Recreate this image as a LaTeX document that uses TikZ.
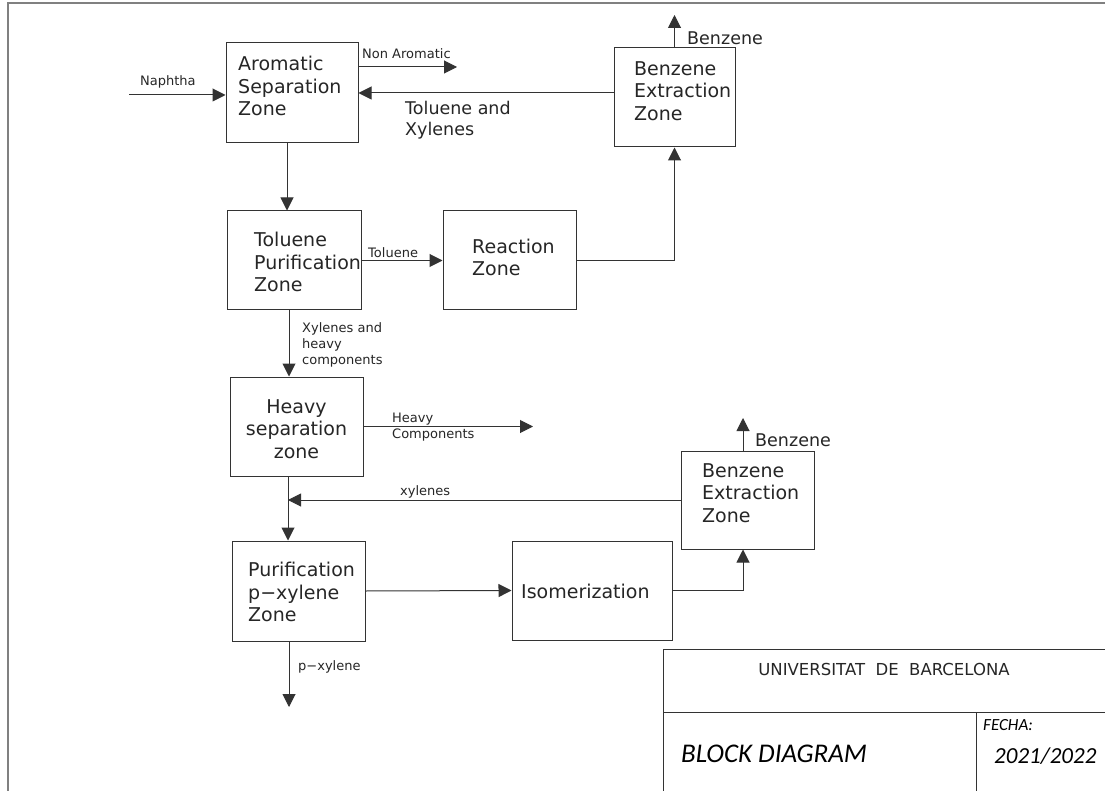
\documentclass[tikz,border=0pt]{standalone}
\usepackage{fontspec}
\setmainfont{DejaVu Sans}
\newfontfamily\calib{Carlito}
\usetikzlibrary{arrows.meta}
\begin{document}
\begin{tikzpicture}[x=1pt,y=-1pt,
  box/.style={draw=black!80, line width=1pt, inner sep=0pt},
  btxt/.style={inner sep=0pt, anchor=west, align=left, text=black!85, font=\fontsize{19}{22.5}\selectfont},
  slbl/.style={inner sep=0pt, anchor=west, align=left, text=black!85, font=\fontsize{13}{16}\selectfont},
  mlbl/.style={inner sep=0pt, anchor=west, align=left, text=black!85, font=\fontsize{17.5}{21.5}\selectfont},
  arr/.style={draw=black!80, line width=1pt, -{Triangle[length=13pt,width=13pt]}},
  ln/.style={draw=black!80, line width=1pt}]
\useasboundingbox (0,0) rectangle (1105,791);
\clip (0,0) rectangle (1105,791);
\fill[white] (0,0) rectangle (1105,791);
% frame
\draw[gray, line width=1.6pt] (8,3) rectangle (1130,820);
% boxes
\node[box, minimum width=132pt, minimum height=100pt] (asz) at (292,93) {};
\node[box, minimum width=121pt, minimum height=99pt] (bez1) at (674.5,97.5) {};
\node[box, minimum width=134pt, minimum height=99pt] (tpz) at (294,260.5) {};
\node[box, minimum width=133pt, minimum height=99pt] (rz) at (509.5,260.5) {};
\node[box, minimum width=133pt, minimum height=99pt] (hsz) at (296.5,426.5) {};
\node[box, minimum width=133pt, minimum height=98pt] (bez2) at (747.5,500) {};
\node[box, minimum width=133pt, minimum height=100pt] (pxz) at (298.5,591) {};
\node[box, minimum width=160pt, minimum height=99pt] (iso) at (592,590.5) {};
% box texts
\node[btxt] (asz-t) at (238,86) {Aromatic\\Separation\\Zone};
\node[btxt] (bez1-t) at (634,91) {Benzene\\Extraction\\Zone};
\node[btxt] (tpz-t) at (254,262) {Toluene\\Purification\\Zone};
\node[btxt] (rz-t) at (472,257.5) {Reaction\\Zone};
\node[btxt, anchor=center, align=center] (hsz-t) at (296.5,429) {Heavy\\separation\\zone};
\node[btxt] (bez2-t) at (702,493) {Benzene\\Extraction\\Zone};
\node[btxt] (pxz-t) at (248,592) {Purification\\p−xylene\\Zone};
\node[btxt] (iso-t) at (521,591.5) {Isomerization};
% coordinates
\coordinate (nin) at (129,95);
\coordinate (nao) at (457,67);
\coordinate (b1out) at (674.5,15);
\coordinate (c1) at (287,0);
\coordinate (c2) at (289,0);
\coordinate (c3) at (288,0);
\coordinate (c4) at (743,0);
\coordinate (b2out) at (743,418);
\coordinate (hout) at (533,426.5);
\coordinate (pout) at (289,707);
% connectors
\draw[arr] (nin) -- (nin -| asz.west);
\draw[arr] (nao -| asz.east) -- (nao);
\draw[arr] (asz.east -| bez1.west) -- (asz.east);
\draw[arr] (bez1.north) -- (b1out);
\draw[arr] (asz.south -| c1) -- (tpz.north -| c1);
\draw[arr] (tpz.east) -- (rz.west);
\draw[arr] (rz.east) -| (bez1.south);
\draw[arr] (tpz.south -| c2) -- (hsz.north -| c2);
\draw[arr] (hsz.east) -- (hout);
\draw[arr] (hsz.south -| c3) -- (pxz.north -| c3);
\draw[arr] (bez2.west) -- (bez2.west -| c3);
\draw[arr] (pxz.east) -- (iso.west);
\draw[arr] (iso.east) -| (bez2.south -| c4);
\draw[arr] (bez2.north -| c4) -- (b2out);
\draw[arr] (pxz.south -| c2) -- (pout);
% labels
\node[slbl] (l-naph) at (140,82) {Naphtha};
\node[slbl] (l-nonar) at (362,54) {Non Aromatic};
\node[mlbl] (l-tx) at (405,120) {Toluene and\\Xylenes};
\node[mlbl] (l-benz1) at (687,38) {Benzene};
\node[slbl] (l-tol) at (368,253) {Toluene};
\node[slbl] (l-xh) at (302,345) {Xylenes and\\heavy\\components};
\node[slbl] (l-hc) at (392,427) {Heavy\\Components};
\node[slbl] (l-xyl) at (400,492) {xylenes};
\node[mlbl] (l-benz2) at (755,440.5) {Benzene};
\node[slbl] (l-px) at (298,667) {p−xylene};
% title block
\draw[ln] (663,649) rectangle (1130,820);
\draw[ln] (663,712) -- (1130,712);
\draw[ln] (976,712) -- (976,820);
\node[inner sep=0pt, text=black!85, font=\fontsize{16.5}{20}\selectfont] (t-ub) at (884,669) {UNIVERSITAT\ \ DE\ \ BARCELONA};
\node[inner sep=0pt, anchor=west, font=\calib\itshape\fontsize{27}{30}\selectfont] (t-bd) at (681,754) {BLOCK DIAGRAM};
\node[inner sep=0pt, anchor=west, font=\calib\itshape\fontsize{17}{20}\selectfont] (t-fe) at (983,725) {FECHA:};
\node[inner sep=0pt, anchor=west, font=\calib\itshape\fontsize{23}{26}\selectfont] (t-yr) at (994,756) {2021/2022};
\end{tikzpicture}
\end{document}
